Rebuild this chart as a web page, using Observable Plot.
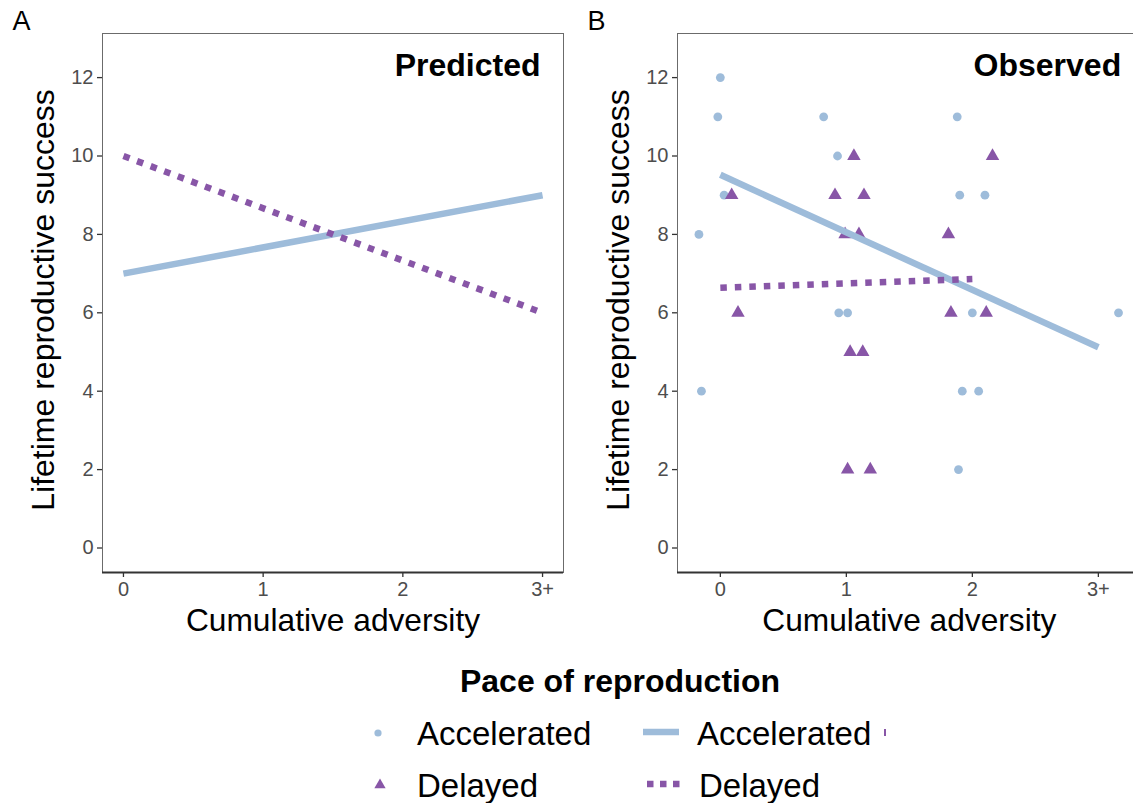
<!DOCTYPE html>
<html>
<head>
<meta charset="utf-8">
<script src="https://cdn.jsdelivr.net/npm/d3@7"></script>
<script src="https://cdn.jsdelivr.net/npm/@observablehq/plot@0.6"></script>
<style>
  html, body { margin: 0; padding: 0; background: #fff; overflow: hidden; width: 1133px; height: 803px; }
  #root { position: relative; width: 1133px; height: 803px; overflow: hidden; font-family: "Liberation Sans", Arial, Helvetica, sans-serif; }
  .panel { position: absolute; top: 0; height: 650px; }
  .panel svg { max-width: none !important; display: block; }
  #legend { position: absolute; left: 0; top: 0; }
</style>
</head>
<body>
<div id="root">
  <div id="panelA" class="panel" style="left:0px; width:570px"></div>
  <div id="panelB" class="panel" style="left:575px; width:575px"></div>
  <svg id="legend" width="1133" height="803"></svg>
</div>
<script>
// ---------- data ----------
const xTickValues = [0, 1, 2, 3];
const xTickLabels = ["0", "1", "2", "3+"];
const yTickValues = [0, 2, 4, 6, 8, 10, 12];
const paceLevels = ["Accelerated", "Delayed"];

// Panel A: predicted lines
const predictedX = [0, 3];
const predictedAccelerated = [7, 9];
const predictedDelayed = [10, 6];

// Panel B: observed (jittered) points
const observedAccelX = [0.00, -0.02, 0.82, 0.93, 0.03, -0.17, 0.94, 1.01, -0.15, 1.88, 1.90, 2.10, 2.00, 3.16, 1.92, 2.05, 1.89];
const observedAccelY = [12, 11, 11, 10, 9, 8, 6, 6, 4, 11, 9, 9, 6, 6, 4, 4, 2];
const observedDelayedX = [1.06, 0.09, 0.91, 1.14, 0.99, 1.10, 0.14, 1.03, 1.13, 1.01, 1.19, 2.16, 1.81, 1.83, 2.11];
const observedDelayedY = [10, 9, 9, 9, 8, 8, 6, 5, 5, 2, 2, 10, 8, 6, 6];

// Panel B: fitted lines
const fitAccelX = [0, 3];
const fitAccelY = [9.52, 5.12];
const fitDelayedX = [0, 2];
const fitDelayedY = [6.64, 6.86];

// ---------- styling ----------
const FONT = '"Liberation Sans", Arial, Helvetica, sans-serif';
const BLUE = "#9ebcda";
const PURPLE = "#8856a7";
const yDomain = [-0.625, 13.125];
const rows = (xs, ys) => xs.map((x, i) => ({x, y: ys[i]}));
const fmtX = d => xTickLabels[xTickValues.indexOf(d)];

function panel({xDomain, width, marginRight, title, titleDx, tag, marks}) {
  return Plot.plot({
    width, height: 650,
    marginLeft: 102, marginRight, marginTop: 33, marginBottom: 78,
    x: {domain: xDomain},
    y: {domain: yDomain},
    style: {fontFamily: FONT, background: "transparent", overflow: "visible"},
    marks: [
      ...marks,
      Plot.frame({stroke: "#6b6b6b", strokeWidth: 1}),
      Plot.ruleY([yDomain[0]], {stroke: "#333", strokeWidth: 1.8}),
      Plot.axisX({ticks: xTickValues, tickFormat: fmtX, tickSize: 5, tickPadding: 4, stroke: "#333", strokeWidth: 1.3, fill: "#4d4d4d", fontSize: 20, label: null}),
      Plot.axisY({ticks: yTickValues, tickSize: 5, tickPadding: 4, stroke: "#333", strokeWidth: 1.3, fill: "#4d4d4d", fontSize: 20, label: null}),
      Plot.text(["Cumulative adversity"], {frameAnchor: "bottom", textAnchor: "middle", lineAnchor: "middle", dy: 48, fontSize: 31.7, fill: "#000"}),
      Plot.text(["Lifetime reproductive success"], {frameAnchor: "left", textAnchor: "middle", lineAnchor: "middle", dx: -59, dy: -3, rotate: -90, fontSize: 32, fill: "#000"}),
      Plot.text([title], {frameAnchor: "top-right", textAnchor: "end", lineAnchor: "middle", dx: titleDx, dy: 32, fontSize: 32, fontWeight: "bold", fill: "#000"}),
      Plot.text([tag], {frameAnchor: "top-left", textAnchor: "start", lineAnchor: "middle", dx: -90, dy: -12, fontSize: 27, fill: "#000"})
    ]
  });
}

const lineOpts = {strokeWidth: 6.5, strokeLinecap: "butt", strokeLinejoin: "miter"};

const plotA = panel({
  xDomain: [-0.15, 3.15], width: 570, marginRight: 7, title: "Predicted", titleDx: -23, tag: "A",
  marks: [
    Plot.line(rows(predictedX, predictedAccelerated), {x: "x", y: "y", stroke: BLUE, ...lineOpts}),
    Plot.line(rows(predictedX, predictedDelayed), {x: "x", y: "y", stroke: PURPLE, strokeDasharray: "6.5,8", ...lineOpts})
  ]
});
document.getElementById("panelA").appendChild(plotA);

const plotB = panel({
  xDomain: [-0.34, 3.34], width: 575, marginRight: 9.3, title: "Observed", titleDx: -20, tag: "B",
  marks: [
    Plot.dot(rows(observedAccelX, observedAccelY), {x: "x", y: "y", r: 4.4, symbol: "circle", fill: BLUE, stroke: "none"}),
    Plot.dot(rows(observedDelayedX, observedDelayedY), {x: "x", y: "y", r: 5, symbol: "triangle", fill: PURPLE, stroke: "none"}),
    Plot.line(rows(fitAccelX, fitAccelY), {x: "x", y: "y", stroke: BLUE, ...lineOpts}),
    Plot.line(rows(fitDelayedX, fitDelayedY), {x: "x", y: "y", stroke: PURPLE, strokeDasharray: "6.5,8", ...lineOpts})
  ]
});
document.getElementById("panelB").appendChild(plotB);

// ---------- legend ----------
const lg = d3.select("#legend").style("font-family", FONT);
lg.append("text").attr("x", 620).attr("y", 692).attr("text-anchor", "middle")
  .attr("font-size", 32).attr("font-weight", "bold").text("Pace of reproduction");
const rowY = [733, 785];
// point keys
lg.append("path").attr("d", d3.symbol(d3.symbolCircle, Math.PI * 3.6 * 3.6)())
  .attr("transform", `translate(378,${rowY[0]})`).attr("fill", BLUE);
lg.append("path").attr("d", d3.symbol(d3.symbolTriangle, Math.PI * 4.2 * 4.2)())
  .attr("transform", `translate(380,${rowY[1]})`).attr("fill", PURPLE);
// line keys
lg.append("line").attr("x1", 643).attr("x2", 679).attr("y1", rowY[0] - 1).attr("y2", rowY[0] - 1)
  .attr("stroke", BLUE).attr("stroke-width", 6.5);
lg.append("line").attr("x1", 647).attr("x2", 681).attr("y1", rowY[1] - 1).attr("y2", rowY[1] - 1)
  .attr("stroke", PURPLE).attr("stroke-width", 6.5).attr("stroke-dasharray", "6.5,6.5");
lg.append("rect").attr("x", 884).attr("y", rowY[0] - 4).attr("width", 2).attr("height", 7).attr("fill", PURPLE);
// labels
paceLevels.forEach((lab, i) => {
  lg.append("text").attr("x", 417).attr("y", rowY[i] + 12).attr("font-size", 33).text(lab);
  lg.append("text").attr("x", i === 0 ? 697 : 699).attr("y", rowY[i] + 12).attr("font-size", 33).text(lab);
});
</script>
</body>
</html>
